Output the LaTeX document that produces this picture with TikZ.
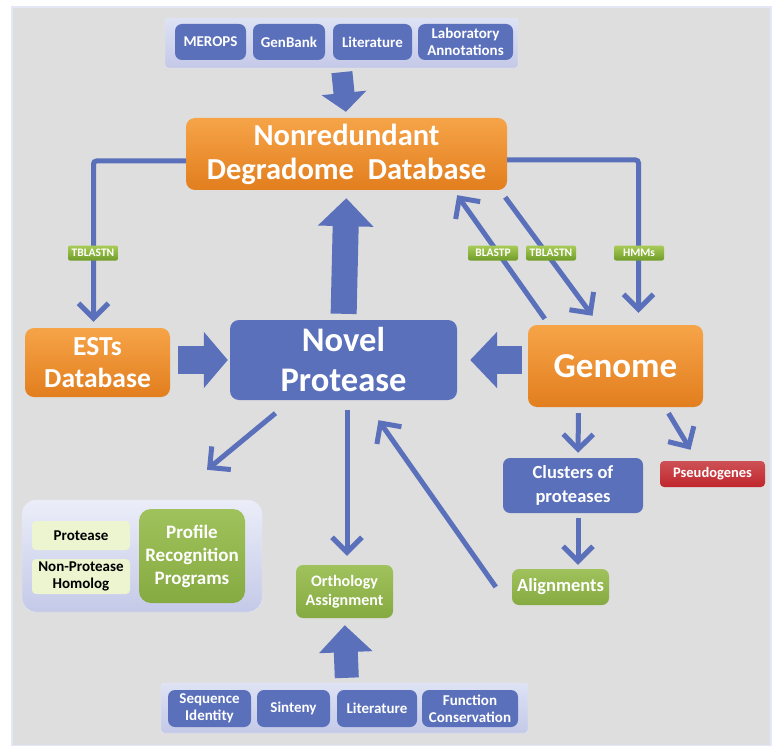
\documentclass[tikz,border=0pt]{standalone}
\usepackage{fontspec}
\setmainfont{Carlito}
\usepackage{tikz}
\usetikzlibrary{arrows.meta,positioning,calc}

\definecolor{protblue}{RGB}{90,112,186}
\definecolor{orangetop}{RGB}{246,164,72}
\definecolor{orangebot}{RGB}{226,126,30}
\definecolor{greentop}{RGB}{160,194,92}
\definecolor{greenbot}{RGB}{134,170,66}
\definecolor{tagtop}{RGB}{168,204,86}
\definecolor{tagbot}{RGB}{112,156,42}
\definecolor{palegreen}{RGB}{236,244,208}
\definecolor{pseudored}{RGB}{192,38,44}
\definecolor{grouptop}{RGB}{222,226,244}
\definecolor{groupbot}{RGB}{196,201,232}
\definecolor{bggray}{RGB}{222,222,222}

\newcommand{\fs}[2]{\fontsize{#1}{#2}\selectfont\bfseries}

\tikzstyle{box}=[rounded corners=7pt,inner sep=0pt,align=center,text=white]
\tikzstyle{bluebox}=[box,fill=protblue]
\tikzstyle{orangebox}=[box,rounded corners=9pt,top color=orangetop,bottom color=orangebot]
\tikzstyle{greenbox}=[box,top color=greentop,bottom color=greenbot]
\tikzstyle{palebox}=[box,rounded corners=4pt,fill=palegreen,text=black]
\tikzstyle{groupbox}=[rounded corners=3pt,inner sep=0pt,top color=grouptop,bottom color=groupbot,draw=white!60!groupbot]
\tikzstyle{tag}=[rounded corners=2pt,inner sep=0pt,minimum width=50pt,minimum height=15pt,
  top color=tagtop,bottom color=tagbot,text=white,font=\fs{11.5}{12}]
\tikzstyle{link}=[draw=protblue,line width=5pt,rounded corners=3pt,
  -{Straight Barb[length=15pt,width=30pt]}]

\begin{document}
\begin{tikzpicture}[x=1pt,y=-1pt]
  \useasboundingbox (0,0) rectangle (776,746);
  \fill[white] (0,0) rectangle (776,746);
  \filldraw[fill=bggray,draw=white!55!groupbot,line width=1.5pt] (12,7) rectangle (771,746);

  % sources
  \node[groupbox,minimum width=353pt,minimum height=50pt] (topgrp) at (341.5,43) {};
  \node[bluebox,minimum width=71pt,minimum height=36pt,font=\fs{15}{17}] (merops) at (210.5,42) {MEROPS};
  \node[bluebox,minimum width=72pt,minimum height=36pt,font=\fs{15}{17}] (genbank) at (289,42) {GenBank};
  \node[bluebox,minimum width=79pt,minimum height=36pt,font=\fs{15}{17}] (toplit) at (372.5,42) {Literature};
  \node[bluebox,minimum width=95pt,minimum height=36pt,font=\fs{15}{17}] (labann) at (465.5,42) {Laboratory\\Annotations};

  \node[orangebox,minimum width=321pt,minimum height=72pt,font=\fs{30.5}{34}] (ndd) at (346.5,154) {Nonredundant\\Degradome~~Database};
  \node[orangebox,minimum width=145pt,minimum height=69pt,font=\fs{27.5}{32}] (ests) at (97.5,362.5) {ESTs\\Database};
  \node[bluebox,rounded corners=9pt,minimum width=227pt,minimum height=80pt,font=\fs{34.5}{40}] (novel) at (343.5,360) {Novel\\Protease};
  \node[orangebox,minimum width=175pt,minimum height=82pt,font=\fs{35}{40}] (genome) at (615.5,366) {Genome};

  \node[bluebox,minimum width=140pt,minimum height=55pt,font=\fs{18.5}{24}] (clusters) at (573,485.5) {Clusters of\\proteases};
  \node[box,rounded corners=4pt,top color=pseudored!80!white,bottom color=pseudored,minimum width=105pt,minimum height=26pt,font=\fs{14.5}{16}] (pseudo) at (712.5,474) {Pseudogenes};
  \node[greenbox,minimum width=97pt,minimum height=36pt,font=\fs{18.5}{22}] (align) at (560.5,587) {Alignments};

  % profile programs
  \node[groupbox,rounded corners=14pt,top color=grouptop!60!white,minimum width=240pt,minimum height=112pt] (grp) at (142,556) {};
  \node[palebox,minimum width=98pt,minimum height=29pt,font=\fs{15}{17}] (prot) at (81,535.5) {Protease};
  \node[palebox,minimum width=98pt,minimum height=35pt,font=\fs{15}{17}] (nonprot) at (81,576.5) {Non-Protease\\Homolog};
  \node[greenbox,rounded corners=12pt,minimum width=106pt,minimum height=94pt,font=\fs{19}{23}] (profile) at (192,556) {Profile\\Recognition\\Programs};

  \node[greenbox,minimum width=97pt,minimum height=53pt,font=\fs{16}{19}] (ortho) at (344.5,591.5) {Orthology\\Assignment};

  % orthology criteria
  \node[groupbox,minimum width=367pt,minimum height=50pt] (botgrp) at (344.5,708) {};
  \node[bluebox,minimum width=83pt,minimum height=37pt,font=\fs{15}{17}] (seqid) at (209.5,708.5) {Sequence\\Identity};
  \node[bluebox,minimum width=73pt,minimum height=37pt,font=\fs{15}{17}] (sinteny) at (293.5,708.5) {Sinteny};
  \node[bluebox,minimum width=80pt,minimum height=37pt,font=\fs{15}{17}] (botlit) at (377,708.5) {Literature};
  \node[bluebox,minimum width=96pt,minimum height=37pt,font=\fs{15}{17}] (funcons) at (470,708.5) {Function\\Conservation};

  % big arrows
  \draw[protblue,line width=21pt,shorten <=4pt,shorten >=6pt,-{Triangle[length=19pt,width=44pt]}] (topgrp.south) -- (ndd.north);
  \draw[protblue,line width=26pt,shorten <=6pt,shorten >=8pt,-{Triangle[length=28pt,width=54pt]}] (novel.north) -- (ndd.south);
  \draw[protblue,line width=28pt,shorten <=8pt,shorten >=2pt,-{Triangle[length=24pt,width=55pt]}] (ests.east |- novel.west) -- (novel.west);
  \draw[protblue,line width=28pt,shorten <=6pt,shorten >=13pt,-{Triangle[length=27pt,width=55pt]}] (genome.west |- novel.east) -- (novel.east);
  \draw[protblue,line width=24pt,shorten <=5pt,shorten >=7pt,-{Triangle[length=27pt,width=52pt]}] ([xshift=2.5pt]botgrp.north) -- (ortho.south);

  % searches
  \draw[link,shorten >=6pt] ([yshift=-7pt]ndd.west) -| ([xshift=-4pt]ests.north);
  \draw[link,shorten >=12pt] ([yshift=-6pt]ndd.east) -| ([xshift=23pt]genome.north);
  \draw[link] ([xshift=17pt,yshift=6pt]genome.north west) -- ([xshift=-50pt,yshift=-5pt]ndd.south east);
  \draw[link] ([xshift=-2pt,yshift=-7pt]ndd.south east) -- ([xshift=-23pt,yshift=9pt]genome.north);

  \node[tag] (tagests) at (93,253) {TBLASTN};
  \node[tag] (tagblastp) at (493,253) {BLASTP};
  \node[tag] (tagtblastn) at (551,253) {TBLASTN};
  \node[tag] (taghmm) at (639,253) {HMMs};

  % analysis
  \draw[link] ($(novel.south)+(-68,13)$) -- ($(grp.north)+(65,-30)$);
  \draw[link,shorten <=10pt,shorten >=9pt] ([xshift=3.5pt]novel.south) -- ([xshift=2.5pt]ortho.north);
  \draw[link] ([xshift=-16pt]align.west) -- ($(novel.south)+(35,20)$);
  \draw[link,shorten <=6pt,shorten >=5pt] ([xshift=-37pt]genome.south) -- ([xshift=5pt]clusters.north);
  \draw[link] ($(genome.south)+(53,6)$) -- ($(pseudo.north)+(-22,-11)$);
  \draw[link,shorten <=5pt,shorten >=4pt] ([xshift=5pt]clusters.south) -- ([xshift=17.5pt]align.north);
\end{tikzpicture}
\end{document}
